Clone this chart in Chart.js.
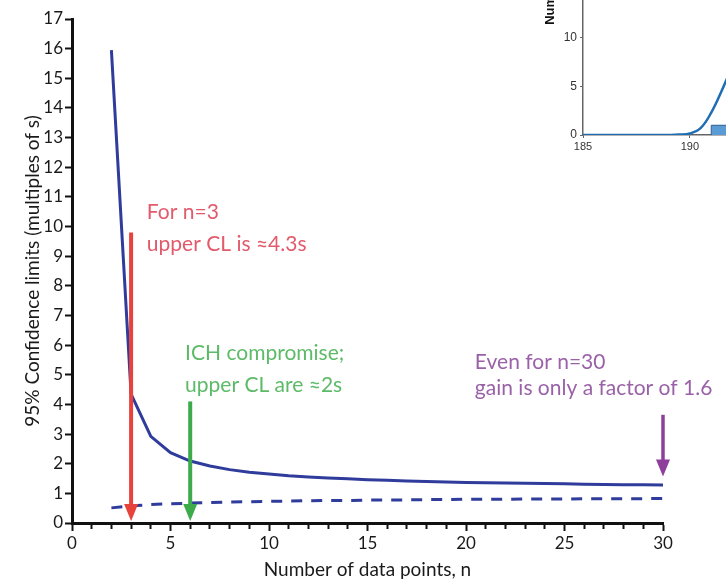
<!DOCTYPE html>
<html>
<head>
<meta charset="utf-8">
<script src="https://cdn.jsdelivr.net/npm/chart.js@4.4.1/dist/chart.umd.min.js"></script>
<style>
  html, body { margin: 0; padding: 0; background: #fff; overflow: hidden; width: 726px; height: 581px; }
  #main { position: absolute; left: 0; top: 0; }
  #inset { position: absolute; left: 540px; top: -245px; }
</style>
</head>
<body>
<canvas id="inset" width="405" height="405"></canvas>
<canvas id="main" width="726" height="581"></canvas>
<script>
// main chart data: 95% confidence limit factors vs number of data points
var nValues = [2, 3, 4, 5, 6, 7, 8, 9, 10, 11, 12, 13, 14, 15, 16, 17, 18, 19, 20, 21, 22, 23, 24, 25, 26, 27, 28, 29, 30];
var upperCL = [15.95, 4.35, 2.92, 2.37, 2.09, 1.92, 1.80, 1.71, 1.65, 1.59, 1.55, 1.52, 1.49, 1.46, 1.44, 1.42, 1.40, 1.38, 1.37, 1.36, 1.35, 1.34, 1.33, 1.32, 1.31, 1.30, 1.29, 1.29, 1.28];
var lowerCL = [0.51, 0.58, 0.62, 0.65, 0.67, 0.69, 0.71, 0.72, 0.73, 0.74, 0.75, 0.76, 0.76, 0.77, 0.78, 0.78, 0.79, 0.79, 0.80, 0.80, 0.80, 0.81, 0.81, 0.81, 0.82, 0.82, 0.82, 0.82, 0.83];

// arrows (x position, top and tip in data units)
var arrowX = [3, 6, 30];
var arrowTop = [9.8, 4.1, 3.65];
var arrowTip = [0, 0, 1.5];
var arrowColors = ["#E8423C", "#3DAA4B", "#8E3F9C"];

// text notes
var noteLines = [
  ["For n=3", "upper CL is \u22484.3s"],
  ["ICH compromise;", "upper CL are \u22482s"],
  ["Even for n=30", "gain is only a factor of 1.6"]
];
var noteX = [3.8, 5.74, 20.45];
var noteY = [[10.47, 9.39], [5.74, 4.63], [5.41, 4.56]];
var noteColors = ["#E25A6B", "#5DBB68", "#9B61A8"];

// inset histogram (partly visible)
var insetCurveX = [185, 186, 187, 188, 189, 189.5, 190, 190.5, 191, 191.5, 192, 192.5, 193];
var insetCurveY = [0, 0, 0, 0, 0.01, 0.04, 0.15, 0.7, 2.3, 4.6, 7.2, 10, 13];
var insetBinStart = [191];
var insetBinCount = [1];

var FONT = "Lato, 'Open Sans', sans-serif";

function xy(xs, ys) {
  return xs.map(function (v, i) { return { x: v, y: ys[i] }; });
}

var notesPlugin = {
  id: "notes",
  afterDatasetsDraw: function (chart) {
    var ctx = chart.ctx;
    var xs = chart.scales.x, ys = chart.scales.y;
    arrowX.forEach(function (ax, i) {
      var px = xs.getPixelForValue(ax);
      var y1 = ys.getPixelForValue(arrowTop[i]);
      var y2 = ys.getPixelForValue(arrowTip[i]) - 2;
      ctx.save();
      ctx.strokeStyle = arrowColors[i];
      ctx.fillStyle = arrowColors[i];
      ctx.lineWidth = i == 2 ? 3.5 : 4;
      ctx.beginPath();
      ctx.moveTo(px, y1);
      ctx.lineTo(px, y2 - 12);
      ctx.stroke();
      ctx.beginPath();
      ctx.moveTo(px - 7, y2 - 17);
      ctx.lineTo(px + 7, y2 - 17);
      ctx.lineTo(px, y2);
      ctx.closePath();
      ctx.fill();
      ctx.restore();
    });
    noteLines.forEach(function (lines, i) {
      ctx.save();
      ctx.font = "21px " + FONT;
      ctx.fillStyle = noteColors[i];
      ctx.textBaseline = "middle";
      ctx.textAlign = "left";
      lines.forEach(function (t, j) {
        ctx.fillText(t, xs.getPixelForValue(noteX[i]), ys.getPixelForValue(noteY[i][j]));
      });
      ctx.restore();
    });
  }
};

new Chart(document.getElementById("main"), {
  type: "line",
  data: {
    datasets: [
      {
        label: "Upper CL",
        data: xy(nValues, upperCL),
        borderColor: "#2F3C9C",
        borderWidth: 3,
        pointRadius: 0,
        tension: 0
      },
      {
        label: "Lower CL",
        data: xy(nValues, lowerCL),
        borderColor: "#2F3C9C",
        borderWidth: 3,
        borderDash: [11, 9],
        pointRadius: 0,
        tension: 0
      }
    ]
  },
  options: {
    responsive: false,
    animation: false,
    layout: { padding: { top: 19, right: 63, left: 0, bottom: 0 } },
    plugins: { legend: { display: false }, tooltip: { enabled: false } },
    scales: {
      x: {
        type: "linear",
        min: 0,
        max: 30,
        afterFit: function (s) { s.height = 58; },
        border: { color: "#111", width: 3 },
        grid: {
          drawOnChartArea: false,
          tickLength: 8,
          tickColor: "#111",
          tickWidth: 2,
          tickBorderDash: function (c) { return c.tick && c.tick.value % 5 === 0 ? [] : [4, 40]; }
        },
        ticks: {
          stepSize: 1,
          autoSkip: false,
          maxRotation: 0,
          padding: 2,
          color: "#1a1a1a",
          font: { family: FONT, size: 17 },
          callback: function (v) { return v % 5 === 0 ? v : ""; }
        },
        title: {
          display: true,
          text: "Number of data points, n",
          color: "#1a1a1a",
          font: { family: FONT, size: 19 },
          padding: { top: 0, bottom: 0 }
        }
      },
      y: {
        min: 0,
        max: 17,
        afterFit: function (s) { s.width = 72; },
        border: { color: "#111", width: 3 },
        grid: { drawOnChartArea: false, tickLength: 7, tickColor: "#111", tickWidth: 2 },
        ticks: {
          stepSize: 1,
          autoSkip: false,
          padding: 2,
          color: "#1a1a1a",
          font: { family: FONT, size: 17 }
        },
        title: {
          display: true,
          text: "95% Confidence limits (multiples of s)",
          color: "#1a1a1a",
          font: { family: FONT, size: 19 },
          padding: { top: 21, bottom: 0 }
        }
      }
    }
  },
  plugins: [notesPlugin]
});

new Chart(document.getElementById("inset"), {
  type: "line",
  data: {
    datasets: [
      {
        label: "Fit",
        data: xy(insetCurveX, insetCurveY),
        borderColor: "#1F6DB3",
        borderWidth: 2.5,
        pointRadius: 0,
        tension: 0.4
      },
      {
        label: "Counts",
        data: insetBinStart.flatMap(function (b, i) {
          return [{ x: b, y: 0 }, { x: b, y: insetBinCount[i] }, { x: b + 1, y: insetBinCount[i] }, { x: b + 1, y: 0 }];
        }),
        borderColor: "#2A5E8E",
        backgroundColor: "#5B9BD5",
        borderWidth: 1,
        pointRadius: 0,
        tension: 0,
        fill: true
      }
    ]
  },
  options: {
    responsive: false,
    animation: false,
    layout: { padding: { top: 0, right: 20, left: 0, bottom: 0 } },
    plugins: { legend: { display: false }, tooltip: { enabled: false } },
    scales: {
      x: {
        type: "linear",
        min: 185,
        max: 201,
        afterFit: function (s) { s.height = 25; },
        border: { color: "#666", width: 1.5 },
        grid: { drawOnChartArea: false, tickLength: 3, tickColor: "#666" },
        ticks: { stepSize: 5, padding: 2, color: "#333", font: { family: "'Liberation Sans', Arial", size: 11 } }
      },
      y: {
        min: 0,
        max: 38,
        afterFit: function (s) { s.width = 43; },
        border: { color: "#666", width: 1.5 },
        grid: { drawOnChartArea: false, tickLength: 3, tickColor: "#666" },
        ticks: { stepSize: 5, padding: 3, color: "#333", font: { family: "'Liberation Sans', Arial", size: 12 } },
        title: {
          display: true,
          text: "Number of observations",
          color: "#111",
          font: { family: "'Liberation Sans', Arial", size: 13, weight: "bold" },
          padding: { top: 3, bottom: 0 }
        }
      }
    }
  }
});
</script>
</body>
</html>
